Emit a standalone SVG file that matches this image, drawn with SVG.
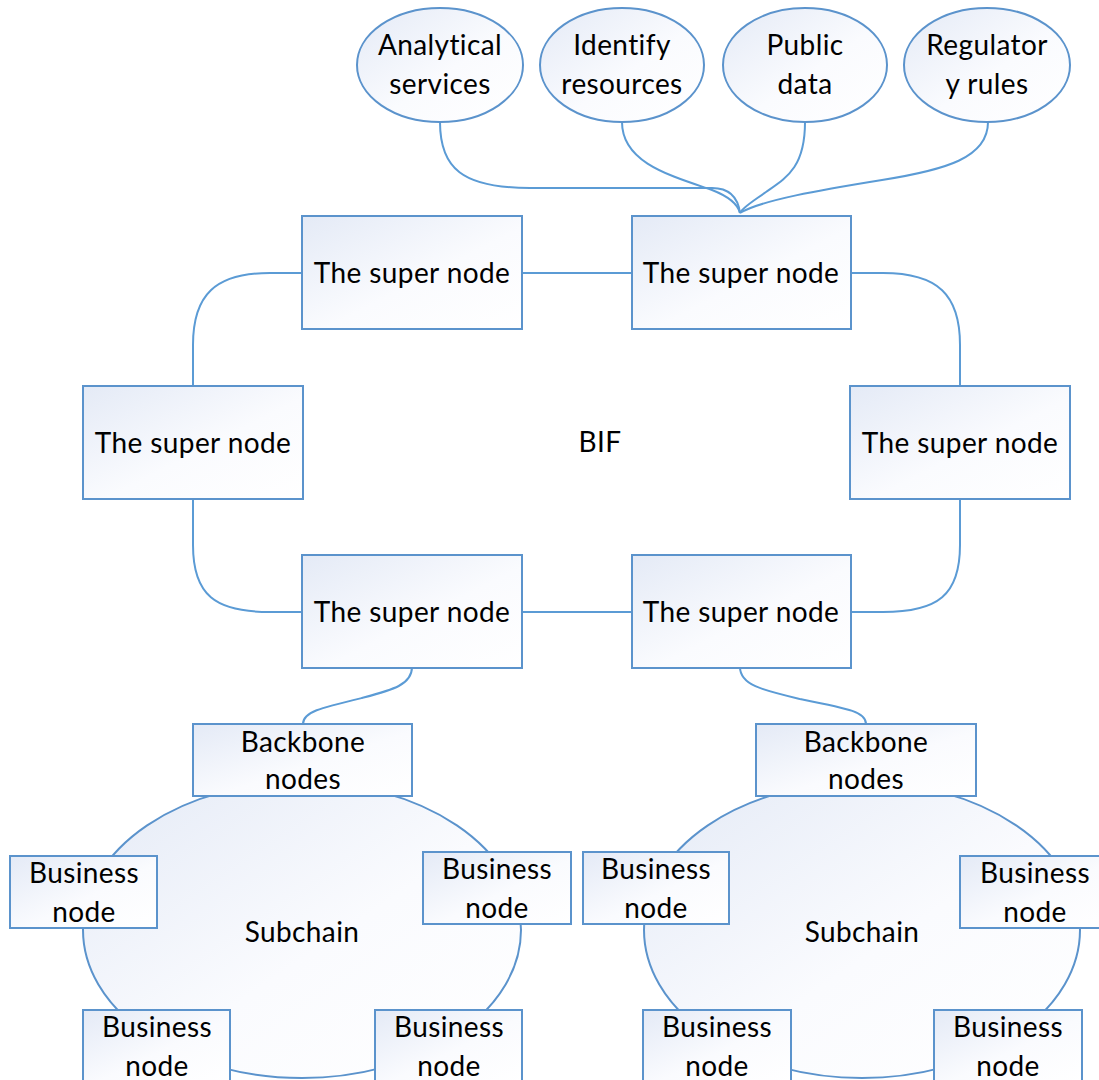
<svg xmlns="http://www.w3.org/2000/svg" width="1099" height="1080" viewBox="0 0 1099 1080">
<defs>
<linearGradient id="g" x1="0" y1="0" x2="1" y2="1">
<stop offset="0" stop-color="#e4eaf6"/>
<stop offset="0.55" stop-color="#fafbfe"/>
<stop offset="1" stop-color="#ffffff"/>
</linearGradient>
<style>
.n{fill:url(#g);stroke:#5b93cc;stroke-width:2}
.c{fill:none;stroke:#5b9bd5;stroke-width:2}
text{font-family:Lato,"Liberation Sans",sans-serif;font-size:28px;letter-spacing:0.4px;fill:#000;text-anchor:middle}
</style>
</defs>
<rect width="1099" height="1080" fill="#fff"/>
<g id="connectors">
<path class="c" d="M440,122 C440,168 462,188 530,188 L712,188 C730,188 738,198 740,213"/>
<path class="c" d="M622,122 C622,162 668,175 712,190 C730,197 738,205 740,213"/>
<path class="c" d="M805,122 C805,168 786,178 766,192 C752,202 742,208 740,213"/>
<path class="c" d="M988,122 C988,158 945,170 882,180 C820,190 762,200 740,213"/>
<path class="c" d="M522,273 L632,273"/>
<path class="c" d="M522,612 L632,612"/>
<path class="c" d="M302,273 L270,273 C215,273 193,295 193,345 L193,386"/>
<path class="c" d="M193,499 L193,545 C193,595 215,612 270,612 L302,612"/>
<path class="c" d="M851,273 L883,273 C938,273 960,295 960,345 L960,386"/>
<path class="c" d="M960,499 L960,545 C960,595 938,612 883,612 L851,612"/>
<path class="c" d="M412,667 C412,685 392,690 362,698 C320,708 303,712 303,724"/>
<path class="c" d="M740,667 C740,685 762,690 800,699 C850,709 866,712 866,724"/>
</g>
<g id="analytical"><ellipse class="n" cx="440" cy="65" rx="83" ry="57"/><text x="440" y="55">Analytical</text><text x="440" y="94">services</text></g>
<g id="identify"><ellipse class="n" cx="622" cy="65" rx="82" ry="57"/><text x="622" y="55">Identify</text><text x="622" y="94">resources</text></g>
<g id="public"><ellipse class="n" cx="805" cy="65" rx="82" ry="57"/><text x="805" y="55">Public</text><text x="805" y="94">data</text></g>
<g id="regulatory"><ellipse class="n" cx="987" cy="65" rx="83" ry="57"/><text x="987" y="55">Regulator</text><text x="987" y="94">y rules</text></g>
<g id="super-tl"><rect class="n" x="302" y="216" width="220" height="113"/><text x="412" y="283">The super node</text></g>
<g id="super-tr"><rect class="n" x="632" y="216" width="219" height="113"/><text x="741" y="283">The super node</text></g>
<g id="super-ml"><rect class="n" x="83" y="386" width="220" height="113"/><text x="193" y="453">The super node</text></g>
<g id="super-mr"><rect class="n" x="850" y="386" width="220" height="113"/><text x="960" y="453">The super node</text></g>
<g id="super-bl"><rect class="n" x="302" y="555" width="220" height="113"/><text x="412" y="622">The super node</text></g>
<g id="super-br"><rect class="n" x="632" y="555" width="219" height="113"/><text x="741" y="622">The super node</text></g>
<g id="bif"><text x="600" y="452">BIF</text></g>
<g id="subchain-left"><ellipse class="n" cx="302" cy="930" rx="219" ry="148"/><text x="302" y="942">Subchain</text></g>
<g id="subchain-right"><ellipse class="n" cx="862" cy="930" rx="218" ry="148"/><text x="862" y="942">Subchain</text></g>
<g id="backbone-l"><rect class="n" x="193" y="724" width="219" height="72"/><text x="303" y="752">Backbone</text><text x="303" y="789">nodes</text></g>
<g id="backbone-r"><rect class="n" x="756" y="724" width="220" height="72"/><text x="866" y="752">Backbone</text><text x="866" y="789">nodes</text></g>
<g id="biz-l1"><rect class="n" x="10" y="856" width="147" height="72"/><text x="84" y="883">Business</text><text x="84" y="922">node</text></g>
<g id="biz-l2"><rect class="n" x="423" y="852" width="148" height="72"/><text x="497" y="879">Business</text><text x="497" y="918">node</text></g>
<g id="biz-l3"><rect class="n" x="83" y="1010" width="147" height="72"/><text x="157" y="1037">Business</text><text x="157" y="1076">node</text></g>
<g id="biz-l4"><rect class="n" x="375" y="1010" width="147" height="72"/><text x="449" y="1037">Business</text><text x="449" y="1076">node</text></g>
<g id="biz-r1"><rect class="n" x="583" y="852" width="146" height="72"/><text x="656" y="879">Business</text><text x="656" y="918">node</text></g>
<g id="biz-r2"><rect class="n" x="960" y="856" width="147" height="72"/><text x="1035" y="883">Business</text><text x="1035" y="922">node</text></g>
<g id="biz-r3"><rect class="n" x="643" y="1010" width="148" height="72"/><text x="717" y="1037">Business</text><text x="717" y="1076">node</text></g>
<g id="biz-r4"><rect class="n" x="934" y="1010" width="148" height="72"/><text x="1008" y="1037">Business</text><text x="1008" y="1076">node</text></g>
</svg>
